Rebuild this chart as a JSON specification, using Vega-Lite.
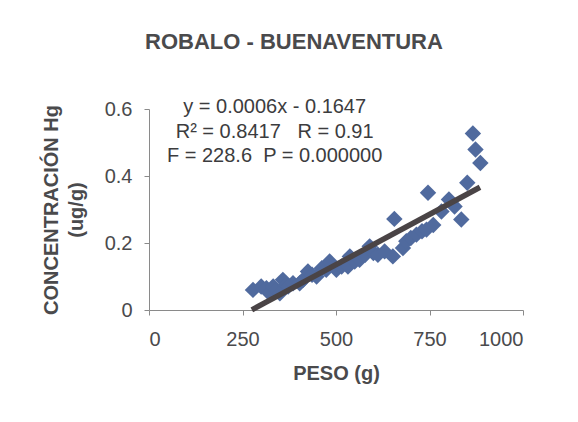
{
  "$schema": "https://vega.github.io/schema/vega-lite/v6.json",
  "width": 374,
  "height": 201,
  "autosize": {"type": "none"},
  "padding": {"left": 149, "top": 109, "right": 55, "bottom": 112},
  "background": "white",
  "title": {
    "text": "ROBALO - BUENAVENTURA",
    "font": "Liberation Sans",
    "fontSize": 22,
    "fontWeight": "bold",
    "color": "#4a4a4c",
    "anchor": "middle",
    "frame": "group",
    "dx": -42,
    "offset": 43
  },
  "datasets": {
    "muestras": [
      {"peso": 278, "conc": 0.06},
      {"peso": 300, "conc": 0.07},
      {"peso": 314, "conc": 0.065},
      {"peso": 322, "conc": 0.05},
      {"peso": 332, "conc": 0.07},
      {"peso": 340, "conc": 0.06},
      {"peso": 350, "conc": 0.05},
      {"peso": 358, "conc": 0.09},
      {"peso": 365, "conc": 0.075},
      {"peso": 372, "conc": 0.07},
      {"peso": 385, "conc": 0.08},
      {"peso": 403, "conc": 0.08},
      {"peso": 412, "conc": 0.09},
      {"peso": 425, "conc": 0.115},
      {"peso": 436, "conc": 0.105},
      {"peso": 448, "conc": 0.1},
      {"peso": 462, "conc": 0.125},
      {"peso": 474, "conc": 0.12},
      {"peso": 483, "conc": 0.145},
      {"peso": 501, "conc": 0.12},
      {"peso": 515, "conc": 0.13},
      {"peso": 532, "conc": 0.13},
      {"peso": 537, "conc": 0.16},
      {"peso": 550, "conc": 0.145},
      {"peso": 563, "conc": 0.15},
      {"peso": 578, "conc": 0.165},
      {"peso": 590, "conc": 0.19},
      {"peso": 600, "conc": 0.17},
      {"peso": 612, "conc": 0.165},
      {"peso": 630, "conc": 0.175},
      {"peso": 652, "conc": 0.16},
      {"peso": 656, "conc": 0.272},
      {"peso": 679, "conc": 0.185},
      {"peso": 688, "conc": 0.205},
      {"peso": 700, "conc": 0.215},
      {"peso": 715, "conc": 0.225},
      {"peso": 730, "conc": 0.235},
      {"peso": 742, "conc": 0.24},
      {"peso": 746, "conc": 0.35},
      {"peso": 760, "conc": 0.254},
      {"peso": 782, "conc": 0.294},
      {"peso": 802, "conc": 0.33},
      {"peso": 817, "conc": 0.309},
      {"peso": 835, "conc": 0.27},
      {"peso": 851, "conc": 0.38},
      {"peso": 866, "conc": 0.527},
      {"peso": 873, "conc": 0.479},
      {"peso": 886, "conc": 0.439}
    ],
    "ajuste": [
      {"peso": 275, "conc": 0.0003},
      {"peso": 885, "conc": 0.3663}
    ],
    "ecuacion": [
      {"peso": 336, "conc": 0.605, "texto": "y = 0.0006x - 0.1647\nR² = 0.8417\u00a0\u00a0\u00a0R = 0.91\nF = 228.6\u00a0\u00a0P = 0.000000"}
    ]
  },
  "config": {
    "view": {"stroke": null},
    "font": "Liberation Sans",
    "axis": {
      "grid": false,
      "domainColor": "#8a8a8a",
      "tickColor": "#8a8a8a",
      "tickSize": 5,
      "labelFont": "Liberation Sans",
      "labelFontSize": 20,
      "labelColor": "#4a4a4c",
      "titleFont": "Liberation Sans",
      "titleFontSize": 20,
      "titleFontWeight": "bold",
      "titleColor": "#4a4a4c"
    }
  },
  "layer": [
    {
      "data": {"name": "muestras"},
      "mark": {"type": "point", "shape": "diamond", "filled": true, "size": 270, "color": "#506a9e", "opacity": 1},
      "encoding": {
        "x": {
          "field": "peso",
          "type": "quantitative",
          "scale": {"domain": [0, 1000], "nice": false},
          "axis": {"values": [0, 250, 500, 750, 1000], "format": "d", "labelPadding": 14, "title": "PESO (g)", "titlePadding": 14}
        },
        "y": {
          "field": "conc",
          "type": "quantitative",
          "scale": {"domain": [0, 0.6], "nice": false},
          "axis": {"values": [0, 0.2, 0.4, 0.6], "format": "~g", "labelPadding": 12, "title": ["CONCENTRACIÓN Hg", "(ug/g)"], "titlePadding": 18, "titleLineHeight": 25}
        }
      }
    },
    {
      "data": {"name": "ajuste"},
      "mark": {"type": "line", "color": "#4a4446", "strokeWidth": 5.5, "strokeCap": "butt"},
      "encoding": {
        "x": {"field": "peso", "type": "quantitative"},
        "y": {"field": "conc", "type": "quantitative"}
      }
    },
    {
      "data": {"name": "ecuacion"},
      "mark": {"type": "text", "align": "center", "baseline": "middle", "lineBreak": "\n", "lineHeight": 24.5, "fontSize": 20, "font": "Liberation Sans", "color": "#3c3c3e"},
      "encoding": {
        "x": {"field": "peso", "type": "quantitative"},
        "y": {"field": "conc", "type": "quantitative"},
        "text": {"field": "texto"}
      }
    }
  ]
}
